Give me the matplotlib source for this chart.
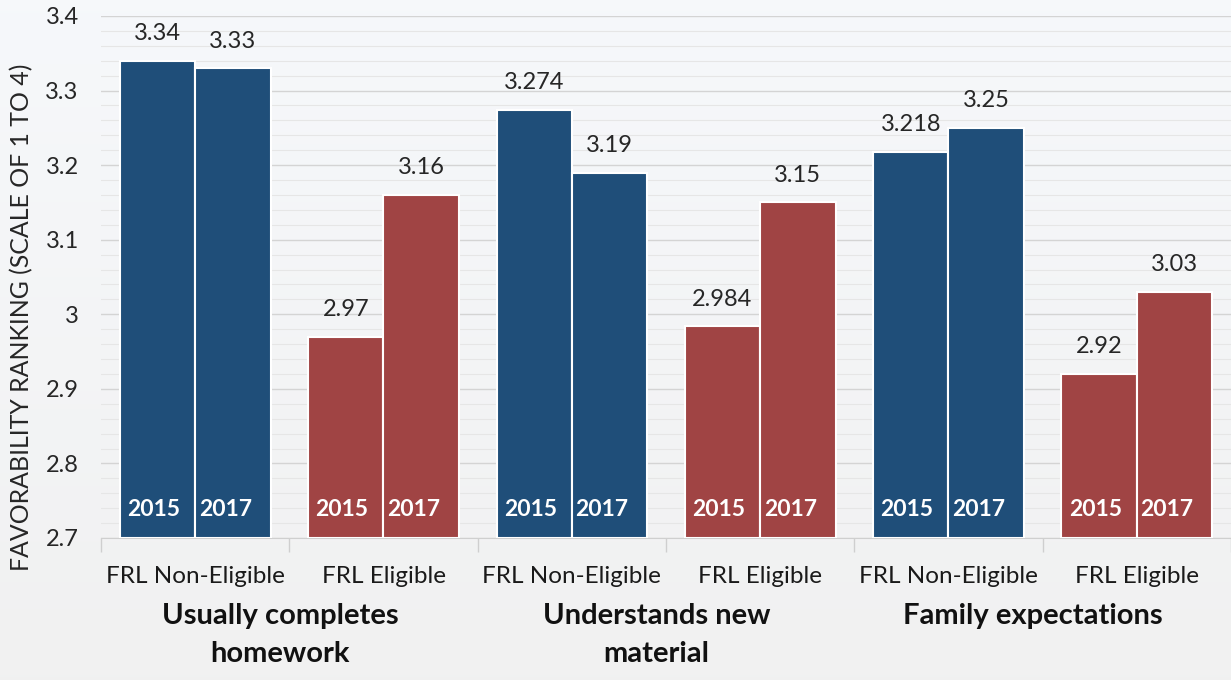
import numpy as np
import matplotlib.pyplot as plt
from matplotlib.ticker import MultipleLocator, FuncFormatter

plt.rcParams['font.family'] = ['Lato', 'DejaVu Sans']

categories = ["FRL Non-Eligible", "FRL Eligible"] * 3
groups = ["Usually completes\nhomework", "Understands new\nmaterial", "Family expectations"]
years = ["2015", "2017"]
vals_2015 = [3.34, 2.97, 3.274, 2.984, 3.218, 2.92]
vals_2017 = [3.33, 3.16, 3.19, 3.15, 3.25, 3.03]
labels_2015 = ["3.34", "2.97", "3.274", "2.984", "3.218", "2.92"]
labels_2017 = ["3.33", "3.16", "3.19", "3.15", "3.25", "3.03"]

blue = "#1F4E79"
red = "#A04444"
colors = [blue, red] * 3

fig = plt.figure(figsize=(12.31, 6.80), dpi=100)

# soft background gradient
bg = fig.add_axes([0, 0, 1, 1], zorder=-10)
grad = np.linspace(0, 1, 256).reshape(-1, 1)
top = np.array([0.965, 0.973, 0.984])
bot = np.array([0.945, 0.945, 0.945])
img = top + (bot - top) * grad[:, :, None] * np.ones((1, 2, 1))
bg.imshow(img, aspect="auto", extent=[0, 1, 0, 1])
bg.axis("off")

ax = fig.add_axes([101 / 1231, 142 / 680, 1 - 101 / 1231, (538 - 16) / 680])
ax.patch.set_alpha(0)

x = np.arange(len(categories))
w = 0.40
b1 = ax.bar(x - w / 2, np.array(vals_2015) - 2.7, w, bottom=2.7, color=colors,
            edgecolor="white", linewidth=1.5, zorder=3)
b2 = ax.bar(x + w / 2, np.array(vals_2017) - 2.7, w, bottom=2.7, color=colors,
            edgecolor="white", linewidth=1.5, zorder=3)

for bars, labs in [(b1, labels_2015), (b2, labels_2017)]:
    for r, lab in zip(bars, labs):
        cx = r.get_x() + r.get_width() / 2
        ax.annotate(lab, (cx, r.get_y() + r.get_height()), xytext=(0, 12),
                    textcoords="offset points", ha="center", va="bottom",
                    fontsize=17, color="#262626")

for i in range(len(categories)):
    ax.text(x[i] - w / 2 - 0.02, 2.738, years[0], ha="center", va="center",
            color="white", fontsize=16.5, fontweight="bold", zorder=4)
    ax.text(x[i] + w / 2 - 0.04, 2.738, years[1], ha="center", va="center",
            color="white", fontsize=16.5, fontweight="bold", zorder=4)

ax.set_ylim(2.7, 3.4)
ax.set_xlim(-0.5, 5.5)
ax.yaxis.set_major_locator(MultipleLocator(0.1))
ax.yaxis.set_minor_locator(MultipleLocator(0.02))
ax.yaxis.set_major_formatter(FuncFormatter(lambda v, p: f"{v:g}"))
ax.grid(axis="y", which="major", color="#D4D4D4", linewidth=1.0, zorder=0)
ax.grid(axis="y", which="minor", color="#E6E6E6", linewidth=0.8, zorder=0)
ax.tick_params(axis="y", which="both", length=0, pad=16, labelsize=17,
               labelcolor="#262626")

ax.set_xticks(x)
ax.set_xticklabels(categories, fontsize=17.5, color="#1a1a1a")
ax.set_xticks(np.arange(-0.5, 6.0, 1.0), minor=True)
ax.tick_params(axis="x", which="major", length=0, pad=20)
ax.tick_params(axis="x", which="minor", length=10, color="#CFCFCF", width=1)

for s in ["top", "right", "left"]:
    ax.spines[s].set_visible(False)
ax.spines["bottom"].set_color("#CFCFCF")

for g, lab in enumerate(groups):
    ax.text(2 * g + 0.5 - 0.05, -0.125, lab, transform=ax.get_xaxis_transform(),
            ha="center", va="top", fontsize=21, fontweight="bold",
            color="#111111", linespacing=1.55)

fig.text(22 / 1231, 0.534, "FAVORABILITY RANKING (SCALE OF 1 TO 4)", rotation=90,
         ha="center", va="center", fontsize=17.9, color="#262626")

fig.savefig("out.png", dpi=100)
